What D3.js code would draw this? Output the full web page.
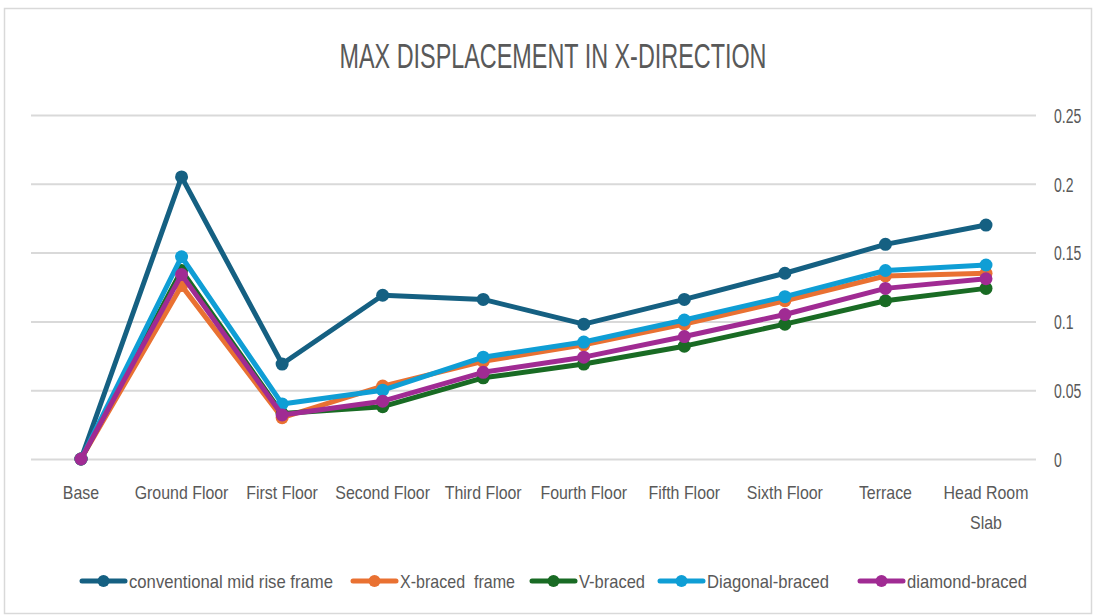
<!DOCTYPE html>
<html>
<head>
<meta charset="utf-8">
<script src="https://cdn.jsdelivr.net/npm/d3@7"></script>
<style>
  body { margin: 0; background: #fff; }
  text { font-family: "Liberation Sans", Arial, sans-serif; fill: #595959; }
</style>
</head>
<body>
<div id="chart"></div>
<script>
// floors along the x axis
var floors = ["Base", "Ground Floor", "First Floor", "Second Floor", "Third Floor",
  "Fourth Floor", "Fifth Floor", "Sixth Floor", "Terrace", "Head Room Slab"];

// displacement values
var conventional = [0, 0.205, 0.069, 0.119, 0.116, 0.098, 0.116, 0.135, 0.156, 0.170];
var xBraced      = [0, 0.126, 0.030, 0.053, 0.071, 0.083, 0.098, 0.115, 0.133, 0.135];
var vBraced      = [0, 0.137, 0.033, 0.038, 0.059, 0.069, 0.082, 0.098, 0.115, 0.124];
var diagonal     = [0, 0.147, 0.040, 0.050, 0.074, 0.085, 0.101, 0.118, 0.137, 0.141];
var diamond      = [0, 0.134, 0.032, 0.042, 0.063, 0.074, 0.089, 0.105, 0.124, 0.131];

var seriesNames = ["conventional mid rise frame", "X-braced  frame", "V-braced", "Diagonal-braced", "diamond-braced"];
var yTicks = [0, 0.05, 0.1, 0.15, 0.2, 0.25];

var colors = ["#156082", "#E97132", "#196B24", "#0F9ED5", "#A02B93"];
var allSeries = [conventional, xBraced, vBraced, diagonal, diamond];

var width = 1093, height = 615;

var svg = d3.select("#chart")
  .append("svg")
  .attr("width", width)
  .attr("height", height)

// outer frame
svg.append("rect")
  .attr("x", 4.5).attr("y", 8.5)
  .attr("width", width - 6).attr("height", height - 10)
  .attr("fill", "none")
  .attr("stroke", "#d9d9d9")
  .attr("stroke-width", 1.5)

var x = d3.scalePoint()
  .domain(floors)
  .range([81, 986])

var y = d3.scaleLinear()
  .domain([0, 0.25])
  .range([459, 115])

// squeeze a text element so it looks like the narrow office font
function squeeze(sel, factor){
  sel.each(function(){
    var len = this.getComputedTextLength();
    d3.select(this).attr("textLength", len * factor).attr("lengthAdjust", "spacingAndGlyphs");
  })
}

// title
svg.append("text")
  .attr("x", 553).attr("y", 68)
  .attr("text-anchor", "middle")
  .style("font-size", "35px")
  .attr("textLength", 427)
  .attr("lengthAdjust", "spacingAndGlyphs")
  .text("MAX DISPLACEMENT IN X-DIRECTION")

// gridlines + right axis labels
var yAxis = d3.axisRight(y)
  .tickValues(yTicks)
  .tickSize(1036 - 31)
  .tickFormat(function(d){ return d3.format("")(+d.toFixed(2)); })

var gy = svg.append("g")
  .attr("transform", "translate(31,0)")
  .call(yAxis)
gy.select(".domain").remove()
gy.selectAll(".tick line").attr("stroke", "#d9d9d9").attr("stroke-width", 2)
gy.selectAll(".tick text")
  .attr("x", 1054 - 31)
  .attr("dy", "0.36em")
  .attr("fill", "#595959")
  .style("font-size", "20px")
  .call(squeeze, 0.7)

// x labels (wrap the long one onto two lines)
var xl = svg.append("g")
xl.selectAll("text")
  .data(floors)
  .enter()
  .append("text")
  .attr("text-anchor", "middle")
  .attr("y", 499)
  .style("font-size", "18.5px")
  .each(function(d){
    var t = d3.select(this);
    var lines = d == "Head Room Slab" ? ["Head Room", "Slab"] : [d];
    lines.forEach(function(line, i){
      t.append("tspan")
        .attr("x", x(d))
        .attr("dy", i == 0 ? 0 : 30)
        .text(line)
    })
  })
xl.selectAll("tspan").each(function(){
  var len = this.getComputedTextLength();
  d3.select(this).attr("textLength", len * 0.86).attr("lengthAdjust", "spacingAndGlyphs");
})

// series lines and markers
var line = d3.line()
  .x(function(d, i){ return x(floors[i]); })
  .y(function(d){ return y(d); })

allSeries.forEach(function(vals, s){
  var g = svg.append("g").attr("class", "series")
  g.append("path")
    .datum(vals)
    .attr("d", line)
    .attr("fill", "none")
    .attr("stroke", colors[s])
    .attr("stroke-width", 5)
    .attr("stroke-linejoin", "round")
  g.selectAll("circle")
    .data(vals)
    .enter()
    .append("circle")
    .attr("cx", function(d, i){ return x(floors[i]); })
    .attr("cy", function(d){ return y(d); })
    .attr("r", 6.5)
    .attr("fill", colors[s])
})

// legend
var legendX = [82, 353, 532, 660, 860];
var legendW = [204, 115, 66, 122, 120];
var legend = svg.append("g").attr("transform", "translate(0,581)")
seriesNames.forEach(function(name, s){
  var item = legend.append("g").attr("transform", "translate(" + legendX[s] + ",0)")
  item.append("line")
    .attr("x1", 0).attr("x2", 43)
    .attr("stroke", colors[s])
    .attr("stroke-width", 5)
    .attr("stroke-linecap", "round")
  item.append("circle")
    .attr("cx", 21.5).attr("r", 6)
    .attr("fill", colors[s])
  item.append("text")
    .attr("x", 47)
    .attr("dy", "0.36em")
    .style("font-size", "19px")
    .style("white-space", "pre")
    .attr("textLength", legendW[s])
    .attr("lengthAdjust", "spacingAndGlyphs")
    .text(name)
})
</script>
</body>
</html>
